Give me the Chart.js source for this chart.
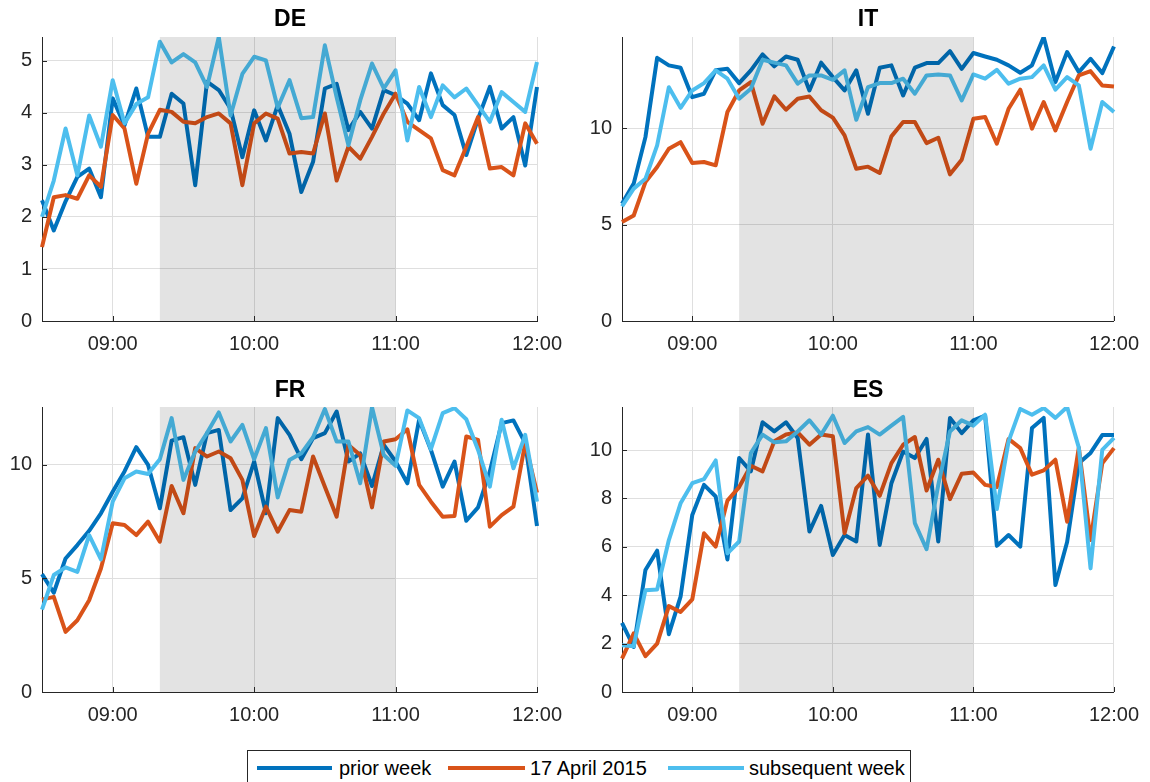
<!DOCTYPE html>
<html>
<head>
<meta charset="utf-8">
<script src="https://cdn.jsdelivr.net/npm/chart.js@4.4.0/dist/chart.umd.min.js"></script>
<style>
  body { margin: 0; width: 1150px; height: 782px; position: relative; overflow: hidden; background: #fff;
         font-family: "Liberation Sans", Arial, sans-serif; }
  canvas { position: absolute; }
  .title { position: absolute; width: 200px; text-align: center; font-weight: bold; font-size: 23px; line-height: 26px; color: #000; }
  #legend { position: absolute; left: 247px; top: 750px; width: 664px; height: 60px; border: 1px solid #262626; box-sizing: border-box; background: #fff; }
  .lg-line { position: absolute; height: 4px; top: 766px; }
  .lg-text { position: absolute; top: 756px; font-size: 20px; line-height: 24px; color: #000; white-space: nowrap; }
</style>
</head>
<body>
<canvas id="cDE" width="575" height="370" style="left:0;top:0"></canvas>
<canvas id="cIT" width="575" height="370" style="left:575px;top:0"></canvas>
<canvas id="cFR" width="575" height="370" style="left:0;top:370px"></canvas>
<canvas id="cES" width="575" height="370" style="left:575px;top:370px"></canvas>
<div class="title" style="left:190px;top:5px">DE</div>
<div class="title" style="left:768px;top:5px">IT</div>
<div class="title" style="left:190px;top:376px">FR</div>
<div class="title" style="left:768px;top:376px">ES</div>
<div id="legend"></div>
<div class="lg-line" style="left:257px;width:75px;background:#0072BD"></div>
<div class="lg-text" style="left:339px">prior week</div>
<div class="lg-line" style="left:448px;width:77px;background:#D95319"></div>
<div class="lg-text" style="left:530px">17 April 2015</div>
<div class="lg-line" style="left:668px;width:76px;background:#4DBEEE"></div>
<div class="lg-text" style="left:749px">subsequent week</div>
<script>
const times = ['08:30','08:35','08:40','08:45','08:50','08:55','09:00','09:05','09:10','09:15',
  '09:20','09:25','09:30','09:35','09:40','09:45','09:50','09:55','10:00','10:05',
  '10:10','10:15','10:20','10:25','10:30','10:35','10:40','10:45','10:50','10:55',
  '11:00','11:05','11:10','11:15','11:20','11:25','11:30','11:35','11:40','11:45',
  '11:50','11:55','12:00'];
const xTickLabels = ['09:00','10:00','11:00','12:00'];
const shadeFrom = '09:20';
const shadeTo = '11:00';
const seriesNames = ['prior week', '17 April 2015', 'subsequent week'];
const seriesColors = ['#0072BD', '#D95319', '#4DBEEE'];

const dePrior = [2.32,1.74,2.3,2.77,2.93,2.38,4.28,3.76,4.47,3.54, 3.54,4.37,4.18,2.61,4.6,4.44,4.08,3.15,4.05,3.47,
  4.15,3.6,2.48,3.06,4.47,4.56,3.67,4.02,3.7,4.44, 4.34,4.18,3.86,4.76,4.15,3.96,3.19,3.89,4.5,3.7, 3.92,2.99,4.5];
const deApril = [1.42,2.38,2.42,2.35,2.8,2.58,3.96,3.7,2.64,3.6, 4.06,4.02,3.83,3.8,3.92,3.99,3.8,2.61,3.8,3.99,
  3.89,3.22,3.25,3.22,3.99,2.7,3.35,3.12,3.54,3.99, 4.37,3.83,3.67,3.51,2.9,2.8,3.35,3.92,2.93,2.96, 2.8,3.8,3.41];
const deNext = [2.0,2.7,3.7,2.8,3.95,3.35,4.63,3.8,4.17,4.3, 5.37,4.97,5.13,4.97,4.5,5.46,3.95,4.75,5.08,5.01,
  4.1,4.63,3.9,3.92,5.3,4.3,3.38,4.24,4.95,4.47, 4.82,3.47,4.5,3.92,4.53,4.3,4.47,4.15,3.83,4.4, 4.21,4.02,4.98];

const itPrior = [6.08,7.12,9.53,13.64,13.25,13.13,11.6,11.78,13.0,13.07, 12.33,12.99,13.82,13.2,13.71,13.54,11.95,13.39,12.64,11.95,
  12.99,10.74,13.13,13.25,11.69,13.13,13.37,13.37,13.99,13.07, 13.89,13.71,13.54,13.25,12.87,13.25,14.72,12.38,13.94,12.9, 13.59,12.85,14.23];
const itApril = [5.13,5.47,7.2,7.98,8.93,9.27,8.19,8.24,8.07,10.83, 11.95,12.38,10.22,11.64,10.95,11.52,11.64,10.92,10.54,9.62,
  7.89,8.0,7.67,9.57,10.31,10.31,9.22,9.5,7.6,8.36, 10.48,10.57,9.19,11.0,11.99,9.97,11.35,9.88,11.35,12.73, 12.95,12.21,12.16];
const itNext = [5.94,6.86,7.37,9.1,12.12,11.05,11.95,12.33,12.99,12.56, 11.52,12.04,13.54,13.39,13.25,12.3,12.73,12.73,12.5,12.99,
  10.43,12.12,12.33,12.33,12.56,11.78,12.73,12.78,12.73,11.43, 12.78,12.56,13.02,12.3,12.56,12.64,13.25,11.99,12.64,12.21, 8.93,11.35,10.83];

const frPrior = [5.19,4.37,5.88,6.47,7.1,7.87,8.82,9.71,10.78,10.0, 8.09,11.07,11.22,9.12,11.4,11.54,8.01,8.53,10.15,7.87,
  12.06,11.32,10.25,11.18,11.4,12.35,10.15,10.51,9.07,10.88, 10.15,9.19,11.99,10.66,9.04,10.15,7.54,8.13,9.71,11.84, 11.96,10.96,7.31];
const frApril = [4.07,4.19,2.65,3.16,4.04,5.44,7.43,7.35,6.91,7.5, 6.62,9.07,7.87,10.74,10.37,10.59,10.29,9.34,6.87,8.16,
  7.06,8.01,7.94,10.37,9.04,7.72,10.88,10.44,8.13,11.03, 11.13,11.57,9.12,8.38,7.72,7.75,11.25,11.1,7.28,7.79, 8.16,10.96,8.78];
const frNext = [3.63,5.15,5.49,5.29,6.91,5.84,8.38,9.41,9.71,9.6, 10.25,12.06,9.34,10.59,11.4,12.31,11.03,11.76,10.25,11.62,
  8.57,10.22,10.51,11.22,12.46,11.03,11.03,9.19,12.54,10.44, 9.96,12.4,12.06,10.69,12.28,12.5,12.01,10.66,9.04,11.99, 9.85,11.32,8.38];

const esPrior = [2.86,1.86,5.04,5.84,2.39,3.94,7.32,8.56,8.08,5.48, 9.67,9.12,11.15,10.77,11.15,10.5,6.63,7.69,5.66,6.49,
  6.22,10.64,6.08,8.63,9.94,9.67,10.46,6.22,11.33,10.7, 11.23,11.42,6.04,6.49,6.01,10.91,11.33,4.42,6.2,9.46, 9.88,10.62,10.62];
const esApril = [1.38,2.42,1.48,2.0,3.55,3.31,3.83,6.56,6.01,7.91, 8.47,9.35,9.12,10.36,10.64,10.73,10.22,10.64,10.57,6.56,
  8.43,8.94,8.11,9.46,10.22,10.54,8.33,9.6,7.97,9.02, 9.07,8.56,8.47,10.46,10.08,8.98,9.16,9.6,7.04,10.1, 6.28,9.45,10.08];
const esNext = [1.93,1.89,4.21,4.24,6.28,7.8,8.63,8.8,9.57,5.73, 6.22,9.88,10.64,10.32,10.36,10.77,11.23,10.64,11.42,10.29,
  10.77,10.95,10.64,11.01,11.37,6.98,5.9,8.56,10.77,11.23, 11.01,11.46,7.56,10.36,11.7,11.46,11.74,11.33,11.78,10.1, 5.11,10.01,10.5];

const deTicks = [0,1,2,3,4,5];
const itTicks = [0,5,10];
const frTicks = [0,5,10];
const esTicks = [0,2,4,6,8,10];

const axisColor = '#262626';
const tickFont = {family: '"Liberation Sans", Arial, sans-serif', size: 20};

const shadePlugin = {
  id: 'shade',
  afterDatasetsDraw(chart) {
    const {ctx, chartArea: a, scales: {x, y}} = chart;
    const x0 = x.getPixelForValue(times.indexOf(shadeFrom));
    const x1 = x.getPixelForValue(times.indexOf(shadeTo));
    ctx.save();
    ctx.fillStyle = 'rgba(0,0,0,0.11)';
    ctx.fillRect(x0, a.top, x1 - x0, a.bottom - a.top);
    // MATLAB style ticks pointing inside
    ctx.strokeStyle = axisColor;
    ctx.lineWidth = 1;
    ctx.beginPath();
    y.ticks.forEach(t => {
      const py = Math.round(y.getPixelForValue(t.value)) + 0.5;
      ctx.moveTo(a.left, py); ctx.lineTo(a.left + 5, py);
    });
    x.ticks.forEach(t => {
      const px = Math.round(x.getPixelForValue(t.value)) + 0.5;
      ctx.moveTo(px, a.bottom); ctx.lineTo(px, a.bottom - 5);
    });
    ctx.stroke();
    ctx.restore();
  }
};

function makePanel(id, series, yTicks, yMax, yWidth, padRight, xHeight) {
  new Chart(document.getElementById(id), {
    type: 'line',
    data: {
      labels: times,
      datasets: series.map((s, i) => ({
        label: seriesNames[i],
        data: s,
        borderColor: seriesColors[i],
        borderWidth: 4,
        borderJoinStyle: 'round',
        pointRadius: 0,
        tension: 0,
        order: 2 - i
      }))
    },
    options: {
      responsive: false,
      animation: false,
      events: [],
      layout: {padding: {left: 0, right: padRight, top: 37, bottom: 0}},
      plugins: {legend: {display: false}, tooltip: {enabled: false}},
      scales: {
        x: {
          type: 'category',
          afterBuildTicks: s => { s.ticks = s.ticks.filter(t => xTickLabels.includes(times[t.value])); },
          afterFit: s => { s.height = xHeight; },
          ticks: {autoSkip: false, maxRotation: 0, padding: 11, color: axisColor, font: tickFont},
          grid: {color: '#dfdfdf', drawTicks: false},
          border: {color: axisColor}
        },
        y: {
          min: 0,
          max: yMax,
          afterBuildTicks: s => { s.ticks = yTicks.map(v => ({value: v})); },
          afterFit: s => { s.width = yWidth; },
          ticks: {padding: 10, color: axisColor, font: tickFont},
          grid: {color: '#dfdfdf', drawTicks: false},
          border: {color: axisColor}
        }
      }
    },
    plugins: [shadePlugin]
  });
}

makePanel('cDE', [dePrior, deApril, deNext], deTicks, 5.46, 42, 38, 49);
makePanel('cIT', [itPrior, itApril, itNext], itTicks, 14.72, 47, 35, 49);
makePanel('cFR', [frPrior, frApril, frNext], frTicks, 12.55, 42, 38, 48);
makePanel('cES', [esPrior, esApril, esNext], esTicks, 11.78, 47, 35, 48);
</script>
</body>
</html>
